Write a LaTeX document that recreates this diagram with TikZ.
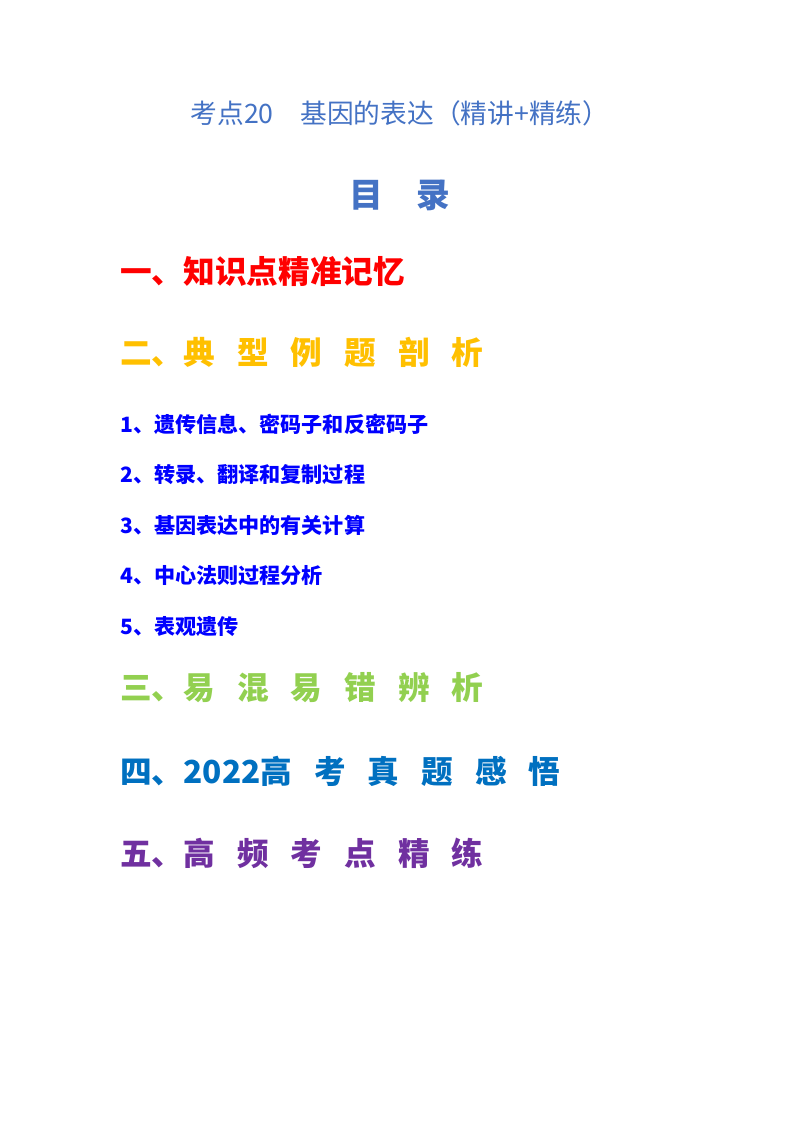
\documentclass[tikz,border=0pt]{standalone}
\usepackage{fontspec}
\setmainfont{Noto Sans CJK SC}
\usetikzlibrary{positioning}
\definecolor{titleblue}{HTML}{4472C4}
\definecolor{headred}{HTML}{FF0000}
\definecolor{headorange}{HTML}{FFC000}
\definecolor{itemblue}{HTML}{0000FF}
\definecolor{headgreen}{HTML}{92D050}
\definecolor{headblue}{HTML}{0070C0}
\definecolor{headpurple}{HTML}{7030A0}
\newcommand{\gp}{\hspace{0.55cm}}
\begin{document}
\begin{tikzpicture}[x=0.025cm,y=-0.025cm,
  heading/.style={anchor=west,inner sep=0pt,font=\fontsize{22.5}{26}\selectfont\bfseries},
  item/.style={anchor=west,inner sep=0pt,text=itemblue,font=\fontsize{15}{18}\selectfont\bfseries}]
  \useasboundingbox[fill=white] (0,0) rectangle (800,1132);
  % title
  \node[inner sep=0pt,text=titleblue,font=\fontsize{19}{22}\selectfont] (title) at (400,113) {考点20\quad 基因的表达（精讲+精练）};
  \node[inner sep=0pt,text=titleblue,font=\fontsize{24}{28}\selectfont\bfseries] (toc) at (400,195) {目\quad 录};
  % headings
  \node[heading,text=headred] (h1) at (120,272) {一、知识点精准记忆};
  \node[heading,text=headorange] (h2) at (120,352) {二、典\gp 型\gp 例\gp 题\gp 剖\gp 析};
  \node[item] (i1) at (120,424) {1、遗传信息、密码子和反密码子};
  \node[item] (i2) at (120,475) {2、转录、翻译和复制过程};
  \node[item] (i3) at (120,525) {3、基因表达中的有关计算};
  \node[item] (i4) at (120,576) {4、中心法则过程分析};
  \node[item] (i5) at (120,627) {5、表观遗传};
  \node[heading,text=headgreen] (h3) at (120,688) {三、易\gp 混\gp 易\gp 错\gp 辨\gp 析};
  \node[heading,text=headblue] (h4) at (120,771) {四、2022高\gp 考\gp 真\gp 题\gp 感\gp 悟};
  \node[heading,text=headpurple] (h5) at (120,853) {五、高\gp 频\gp 考\gp 点\gp 精\gp 练};
\end{tikzpicture}
\end{document}
